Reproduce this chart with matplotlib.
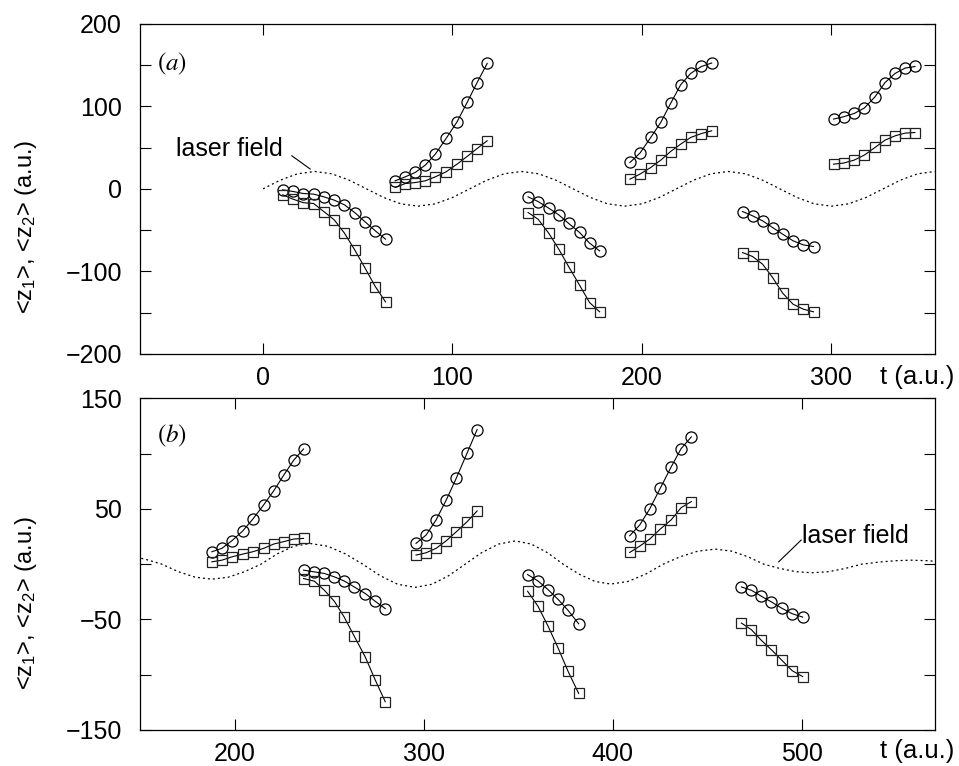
import matplotlib
matplotlib.use('Agg')
import matplotlib.pyplot as plt
from matplotlib.ticker import MultipleLocator

plt.rcParams['font.family'] = ['Liberation Sans', 'DejaVu Sans']
plt.rcParams['mathtext.fontset'] = 'custom'
plt.rcParams['mathtext.rm'] = 'Liberation Sans'
plt.rcParams['mathtext.it'] = 'Liberation Sans:italic'

# ---------------- panel (a) data ----------------
a_t = [
    [10.4, 15.8, 21.3, 26.7, 32.1, 37.6, 43.0, 48.4, 53.9, 59.3, 64.7],
    [69.8, 75.1, 80.4, 85.7, 91.0, 96.7, 102.5, 107.8, 113.1, 118.4],
    [140.0, 145.3, 150.9, 156.2, 161.5, 167.2, 172.5, 177.8],
    [193.8, 199.1, 204.8, 210.1, 215.3, 220.6, 225.9, 231.6, 237.0],
    [253.3, 258.6, 263.9, 269.2, 274.5, 280.0, 285.4, 290.8],
    [301.4, 306.7, 312.3, 317.6, 323.3, 328.6, 333.9, 339.2, 344.4],
]
a_z1 = [
    [-1.2, -3.2, -5.7, -6.4, -9.7, -13.7, -19.4, -28.7, -40.0, -50.9, -61.0],
    [9.7, 14.5, 19.8, 28.7, 42.0, 61.0, 81.2, 104.6, 128.8, 151.9],
    [-9.7, -15.4, -23.4, -31.5, -42.0, -52.9, -65.8, -75.2],
    [31.9, 43.2, 62.2, 80.4, 103.4, 126.0, 139.8, 148.2, 152.4],
    [-27.5, -32.7, -38.8, -46.9, -54.9, -63.0, -67.9, -69.9],
    [84.5, 87.3, 91.3, 97.8, 111.5, 128.8, 139.8, 146.3, 148.2],
]
a_z2 = [
    [-7.3, -12.5, -16.8, -17.8, -27.5, -37.6, -53.7, -73.9, -96.1, -118.4, -137.0],
    [1.6, 6.4, 7.6, 9.7, 14.5, 20.6, 29.9, 39.2, 48.8, 58.2],
    [-28.7, -36.8, -53.7, -73.0, -94.5, -116.7, -137.8, -149.0],
    [11.7, 17.8, 25.8, 34.7, 45.2, 54.1, 62.2, 67.0, 70.3],
    [-77.2, -82.0, -91.3, -107.5, -126.4, -139.8, -145.8, -149.0],
    [29.9, 31.2, 34.8, 40.8, 50.1, 59.0, 64.2, 67.5, 68.2],
]
laser_a_t = [0, 9.1, 18.2, 27.3, 36.4, 45.5, 54.6, 63.7, 72.8, 81.9,
             91.0, 100.1, 109.2, 118.3, 127.4, 136.5, 145.6, 154.7, 163.8, 172.9,
             182.0, 191.1, 200.2, 209.3, 218.4, 227.5, 236.6, 245.7, 254.8, 263.9,
             273.0, 282.1, 291.2, 300.3, 309.4, 318.5, 327.6, 336.7, 345.8, 354.9]
laser_a_z = [0, 10.5, 18.2, 21, 18.2, 10.5, 0, -10.5, -18.2, -21, -18.2, -10.5,
             0, 10.5, 18.2, 21, 18.2, 10.5, 0, -10.5, -18.2, -21, -18.2, -10.5,
             0, 10.5, 18.2, 21, 18.2, 10.5, 0, -10.5, -18.2, -21, -18.2, -10.5,
             0, 10.5, 18.2, 21]

# ---------------- panel (b) data ----------------
b_t = [
    [188.0, 193.3, 198.6, 204.3, 209.6, 215.4, 220.7, 225.9, 231.2, 236.5],
    [236.5, 242.2, 247.5, 252.8, 258.0, 263.3, 269.2, 274.4, 279.7],
    [296.0, 301.3, 306.6, 312.0, 317.3, 323.0, 328.3],
    [355.0, 360.5, 365.8, 371.1, 376.4, 382.0],
    [409.0, 414.3, 419.6, 425.2, 430.9, 436.2, 441.6],
    [468.1, 473.4, 478.7, 484.0, 489.3, 494.9, 500.5],
]
b_z1 = [
    [11.2, 14.3, 21.2, 30.0, 40.6, 53.6, 66.3, 80.2, 93.8, 104.2],
    [-5.4, -7.0, -8.4, -11.5, -15.2, -20.6, -26.6, -33.6, -40.2],
    [18.8, 26.3, 40.0, 58.1, 77.8, 100.5, 121.7],
    [-9.4, -15.2, -23.0, -31.8, -41.8, -53.9],
    [25.7, 35.4, 50.0, 68.8, 87.8, 104.5, 115.1],
    [-20.6, -23.6, -29.1, -34.2, -39.7, -44.8, -47.9],
]
b_z2 = [
    [2.1, 3.6, 6.6, 9.1, 11.2, 14.3, 18.2, 20.3, 22.7, 23.3],
    [-13.0, -15.4, -23.6, -33.6, -47.9, -65.1, -84.2, -104.7, -124.4],
    [8.2, 10.3, 14.3, 21.2, 29.3, 38.4, 48.1],
    [-24.5, -38.1, -56.0, -75.7, -96.9, -116.9],
    [10.6, 16.3, 22.7, 31.8, 40.0, 51.1, 56.6],
    [-53.3, -59.3, -69.0, -77.5, -86.6, -96.3, -101.7],
]
laser_b_t = [135.0, 143.8, 152.7, 161.5, 170.3, 179.2, 188.0, 196.7, 205.3, 214.0,
             222.7, 231.3, 240.0, 249.3, 258.5, 267.8, 277.1, 286.3, 295.6, 304.4,
             313.2, 322.0, 330.8, 339.7, 348.5, 356.9, 365.4, 373.8, 382.2, 390.6,
             399.0, 408.2, 417.5, 426.7, 435.9, 445.1, 454.3, 462.8, 471.4, 479.9,
             488.4, 496.9, 505.4, 514.2, 522.9, 531.7, 540.5, 549.2, 558.0, 566.7,
             575.3]
laser_b_z = [9.0, 7.8, 4.5, 0, -6.8, -11.8, -13.6, -11.8, -6.8, 0,
             9.4, 16.2, 18.7, 16.2, 9.4, 0, -10.5, -18.2, -21.0, -18.2,
             -10.5, 0, 10.5, 18.2, 21.0, 18.2, 10.5, 0, -9.0, -15.6,
             -18.0, -15.6, -9.0, 0, 6.8, 11.8, 13.6, 11.8, 6.8, 0,
             -3.9, -6.8, -7.8, -6.8, -3.9, 0, 1.8, 3.1, 3.6, 3.1,
             1.8]

YLABEL = r'<z$_1$>, <z$_2$> (a.u.)'


def draw_panel(ax, ts, z1s, z2s, lt, lz):
    ax.plot(lt, lz, color='black', lw=0.9, linestyle=(0, (1.6, 2.4)))
    for t, z1, z2 in zip(ts, z1s, z2s):
        ax.plot(t, z1, color='black', lw=0.8, marker='o', ms=8,
                mfc='none', mec='black', mew=0.9)
        ax.plot(t, z2, color='black', lw=0.8, marker='s', ms=6.5,
                mfc='none', mec='#222222', mew=0.9)
    ax.tick_params(which='both', direction='in', top=True, right=True,
                   length=8, width=0.8, labelsize=18)
    ax.tick_params(axis='x', pad=9)
    ax.tick_params(axis='y', pad=13)
    for s in ax.spines.values():
        s.set_linewidth(0.9)
    ax.set_ylabel(YLABEL, fontsize=17)


fig = plt.figure(figsize=(9.59, 7.66), dpi=100)
ax1 = fig.add_axes([0.146, 0.538, 0.829, 0.431])
ax2 = fig.add_axes([0.146, 0.047, 0.829, 0.433])

# ---------------- panel (a) ----------------
draw_panel(ax1, a_t, a_z1, a_z2, laser_a_t, laser_a_z)
ax1.set_xlim(-65, 355)
ax1.set_ylim(-200, 200)
ax1.xaxis.set_major_locator(MultipleLocator(100))
ax1.yaxis.set_major_locator(MultipleLocator(100))
ax1.yaxis.set_minor_locator(MultipleLocator(50))
ax1.yaxis.set_label_coords(-0.127, 0.385)
ax1.text(0.021, 0.86, r'$(a)$', transform=ax1.transAxes, fontsize=18,
         math_fontfamily='stix', va='baseline')
ax1.text(10.5, 40, 'laser field', fontsize=18, ha='right', va='baseline')
ax1.plot([15.2, 24.9], [40, 24], color='black', lw=0.8)

# ---------------- panel (b) ----------------
draw_panel(ax2, b_t, b_z1, b_z2, laser_b_t, laser_b_z)
ax2.set_xlim(150, 570.5)
ax2.set_ylim(-150, 150)
ax2.xaxis.set_major_locator(MultipleLocator(100))
ax2.set_yticks([-150, -50, 50, 150])
ax2.set_yticks([-100, 0, 100], minor=True)
ax2.yaxis.set_label_coords(-0.127, 0.383)
ax2.text(0.021, 0.868, r'$(b)$', transform=ax2.transAxes, fontsize=18,
         math_fontfamily='stix', va='baseline')
ax2.text(500.2, 18.8, 'laser field', fontsize=18, ha='left', va='baseline')
ax2.plot([487.8, 499.7], [2.1, 21.8], color='black', lw=0.8)

# axis labels on the tick-label row
fig.text(954 / 959, 1 - 377 / 766, 't (a.u.)', fontsize=18.5, ha='right', va='center')
fig.text(954 / 959, 1 - 751 / 766, 't (a.u.)', fontsize=18.5, ha='right', va='center')

fig.savefig('out.png', dpi=100)
